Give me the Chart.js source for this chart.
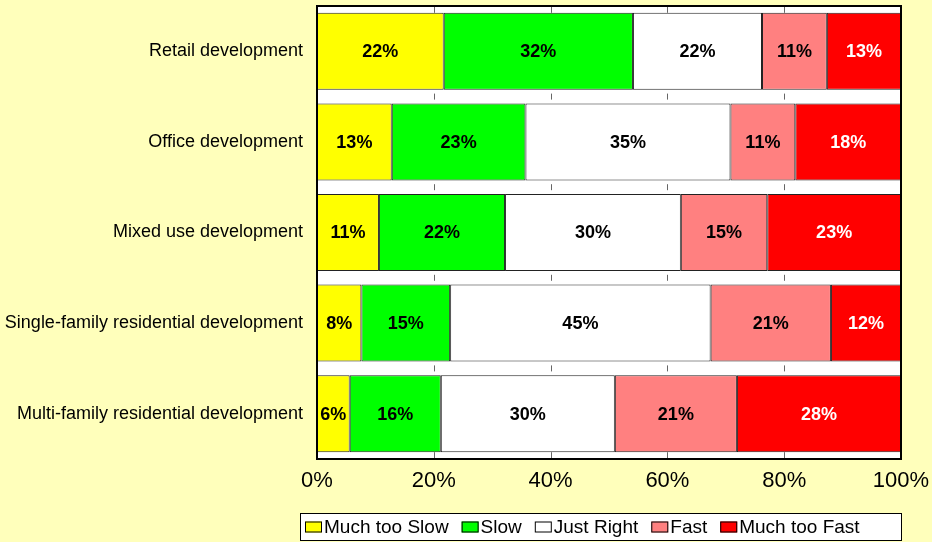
<!DOCTYPE html>
<html><head><meta charset="utf-8">
<script src="https://cdn.jsdelivr.net/npm/chart.js@4"></script>
<style>html,body{margin:0;padding:0;background:#FFFFBB;}#wrap{width:932px;height:542px;}</style>
</head><body><div id="wrap"><canvas id="c" width="932" height="542"></canvas></div>
<script>
const categories = ['Retail development','Office development','Mixed use development','Single-family residential development','Multi-family residential development'];
const seriesNames = ['Much too Slow','Slow','Just Right','Fast','Much too Fast'];
const muchTooSlow = [21.7, 12.8, 10.6, 7.6, 5.6];
const slow = [32.4, 22.9, 21.6, 15.2, 15.6];
const justRight = [22.1, 35.1, 30.1, 44.6, 29.8];
const fast = [11.1, 11.1, 14.8, 20.6, 20.9];
const muchTooFast = [12.7, 18.1, 22.9, 12.0, 28.1];
const tickLabels = ['0%','20%','40%','60%','80%','100%'];
const colors = ['#FFFF00','#00FF00','#FFFFFF','#FF8080','#FF0000'];
const labelColors = ['#000','#000','#000','#000','#fff'];

const FONT = '"Liberation Sans", Arial, sans-serif';
Chart.defaults.font.family = FONT;

const seriesData = [muchTooSlow, slow, justRight, fast, muchTooFast];

const decor = {
  id: 'decor',
  beforeDraw(chart) {
    const {ctx, chartArea: a} = chart;
    ctx.save();
    ctx.fillStyle = '#FFFFBB';
    ctx.fillRect(0, 0, chart.width, chart.height);
    ctx.fillStyle = '#FFFFFF';
    ctx.fillRect(a.left, a.top, a.right - a.left, a.bottom - a.top);
    ctx.restore();
  },
  beforeDatasetsDraw(chart) {
    const {ctx, chartArea: a} = chart;
    const xs = chart.scales.x;
    const bars = chart.getDatasetMeta(0).data;
    const gaps = [];
    gaps.push([a.top, bars[0].y - bars[0].height / 2]);
    for (let i = 1; i < bars.length; i++) {
      const pb = bars[i - 1].y + bars[i - 1].height / 2;
      const nt = bars[i].y - bars[i].height / 2;
      const m = (pb + nt) / 2;
      gaps.push([m - 3, m + 3]);
    }
    const lb = bars[bars.length - 1];
    gaps.push([lb.y + lb.height / 2, a.bottom]);
    ctx.save();
    ctx.strokeStyle = '#666';
    ctx.lineWidth = 1;
    xs.ticks.forEach(t => {
      if (t.value <= xs.min || t.value >= xs.max) return;
      const px = Math.round(xs.getPixelForValue(t.value)) + 0.5;
      gaps.forEach(g => {
        ctx.beginPath(); ctx.moveTo(px, g[0]); ctx.lineTo(px, g[1]); ctx.stroke();
      });
    });
    ctx.restore();
  },
  afterDatasetsDraw(chart) {
    const {ctx, chartArea: a} = chart;
    ctx.save();
    ctx.font = 'bold 18px ' + FONT;
    ctx.textAlign = 'center';
    ctx.textBaseline = 'middle';
    chart.data.datasets.forEach((ds, i) => {
      chart.getDatasetMeta(i).data.forEach((el, j) => {
        ctx.fillStyle = labelColors[i];
        ctx.fillText(Math.round(ds.data[j]) + '%', (el.x + el.base) / 2, el.y + 1);
      });
    });
    ctx.strokeStyle = '#000';
    ctx.lineWidth = 2;
    ctx.strokeRect(a.left, a.top, a.right - a.left, a.bottom - a.top);
    ctx.restore();
  },
  afterDraw(chart) {
    const {ctx, chartArea: a} = chart;
    const left = a.left - 17, top = chart.height - 29, w = a.right - a.left + 18, h = 28;
    ctx.save();
    ctx.fillStyle = '#fff';
    ctx.fillRect(left, top, w, h);
    ctx.strokeStyle = '#000';
    ctx.lineWidth = 1;
    ctx.strokeRect(left + 0.5, top + 0.5, w - 1, h - 1);
    ctx.font = '19px ' + FONT;
    ctx.textBaseline = 'middle';
    ctx.textAlign = 'left';
    let x = left + 5;
    const cy = top + h / 2 + 0.5;
    chart.data.datasets.forEach((ds) => {
      ctx.fillStyle = ds.backgroundColor;
      ctx.fillRect(x, cy - 6, 17, 11);
      ctx.strokeStyle = '#000';
      ctx.strokeRect(x + 0.5, cy - 5.5, 16, 10);
      x += 19;
      ctx.fillStyle = '#000';
      ctx.fillText(ds.label, x, cy);
      x += ctx.measureText(ds.label).width + 13;
    });
    ctx.restore();
  }
};

new Chart(document.getElementById('c'), {
  type: 'bar',
  data: {
    labels: categories,
    datasets: seriesNames.map((n, i) => ({
      label: n,
      data: seriesData[i],
      backgroundColor: colors[i],
      borderColor: '#222',
      borderWidth: 1,
      borderSkipped: false,
      categoryPercentage: 1.0,
      barPercentage: 0.85
    }))
  },
  options: {
    indexAxis: 'y',
    responsive: false,
    animation: false,
    devicePixelRatio: 1,
    layout: {padding: {left: 0, right: 31, top: 6, bottom: 0}},
    plugins: {legend: {display: false}, tooltip: {enabled: false}},
    scales: {
      x: {
        stacked: true, min: 0, max: 100,
        grid: {display: false, drawTicks: false},
        border: {display: false},
        ticks: {stepSize: 20, padding: 9, color: '#000', font: {size: 22},
          callback: (v) => tickLabels[Math.round(v / 20)]},
        afterFit: (s) => { s.height = 83; s.paddingLeft = 0; s.paddingRight = 0; }
      },
      y: {
        stacked: true,
        grid: {display: false, drawTicks: false},
        border: {display: false},
        ticks: {padding: 14, color: '#000', font: {size: 18}},
        afterFit: (s) => { s.width = 317; s.paddingTop = 0; s.paddingBottom = 0; }
      }
    }
  },
  plugins: [decor]
});
</script>
</body></html>
